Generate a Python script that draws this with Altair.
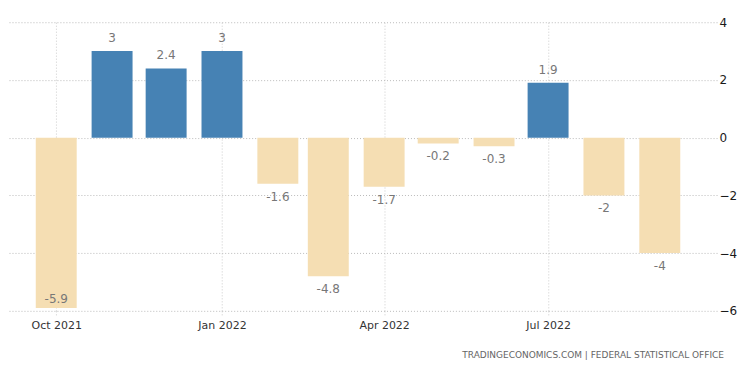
import altair as alt
import pandas as pd

months = ["2021-10-01", "2021-11-01", "2021-12-01", "2022-01-01", "2022-02-01", "2022-03-01",
          "2022-04-01", "2022-05-01", "2022-06-01", "2022-07-01", "2022-08-01", "2022-09-01"]
values = [-5.9, 3, 2.4, 3, -1.6, -4.8, -1.7, -0.2, -0.3, 1.9, -2, -4]
labels = ["-5.9", "3", "2.4", "3", "-1.6", "-4.8", "-1.7", "-0.2", "-0.3", "1.9", "-2", "-4"]
y_ticks = [-6, -4, -2, 0, 2, 4]
source_text = ["TRADINGECONOMICS.COM | FEDERAL STATISTICAL OFFICE"]

df = pd.DataFrame({"date": months, "value": values, "label": labels})
src_df = pd.DataFrame({"t": source_text})

W, H = 710, 289
FONT = "DejaVu Sans"

xscale = alt.Scale(type="utc",
                   domain=[alt.DateTime(year=2021, month=9, date=7, utc=True),
                           alt.DateTime(year=2022, month=9, date=30, utc=True)])
tick_vals = [alt.DateTime(year=2021, month=10, date=1, utc=True),
             alt.DateTime(year=2022, month=1, date=1, utc=True),
             alt.DateTime(year=2022, month=4, date=1, utc=True),
             alt.DateTime(year=2022, month=7, date=1, utc=True)]

x = alt.X("date:T", scale=xscale, title=None,
          axis=alt.Axis(values=tick_vals, format="%b %Y", labelFont=FONT, labelFontSize=11,
                        labelColor="#333333", domain=False, tickColor="#cccccc", tickDash=[1, 2],
                        tickSize=5, grid=True, gridColor="#cccccc", gridDash=[1, 2],
                        labelPadding=4))
y = alt.Y("value:Q", scale=alt.Scale(domain=[-6, 4], nice=False), title=None,
          axis=alt.Axis(orient="right", values=y_ticks, labelFont=FONT, labelFontSize=12,
                        labelColor="#1a1a1a", domain=False, ticks=False, labelPadding=2,
                        grid=True, gridColor="#bbbbbb", gridDash=[1, 2]))

bars = alt.Chart(df).mark_bar(size=41).encode(
    x=x, y=y, y2=alt.datum(0),
    color=alt.condition(alt.datum.value >= 0, alt.value("#4682B4"), alt.value("#F5DEB3")),
)

pos_text = alt.Chart(df).transform_filter(alt.datum.value >= 0).mark_text(
    baseline="bottom", dy=-6, font=FONT, fontSize=12, color="#777777"
).encode(x="date:T", y="value:Q", text="label:N")

neg_text = alt.Chart(df).transform_filter((alt.datum.value < 0) & (alt.datum.value > -5.5)).mark_text(
    baseline="top", dy=8, font=FONT, fontSize=12, color="#777777"
).encode(x="date:T", y="value:Q", text="label:N")

deep_text = alt.Chart(df).transform_filter(alt.datum.value <= -5.5).mark_text(
    baseline="bottom", dy=-2, font=FONT, fontSize=12, color="#777777"
).encode(x="date:T", y="value:Q", text="label:N")

src = alt.Chart(src_df).mark_text(
    align="right", baseline="middle", font=FONT, fontSize=9, color="#666666"
).encode(x=alt.value(W + 7), y=alt.value(H + 44), text="t:N")

chart = alt.layer(bars, pos_text, neg_text, deep_text, src).properties(
    width=W, height=H, background="white",
    autosize=alt.AutoSizeParams(type="none"),
    padding={"top": 14, "left": 0, "right": 25, "bottom": 60}
).configure_view(stroke=None)

chart.save("out.html", embed_options={"renderer": "svg", "actions": False})
